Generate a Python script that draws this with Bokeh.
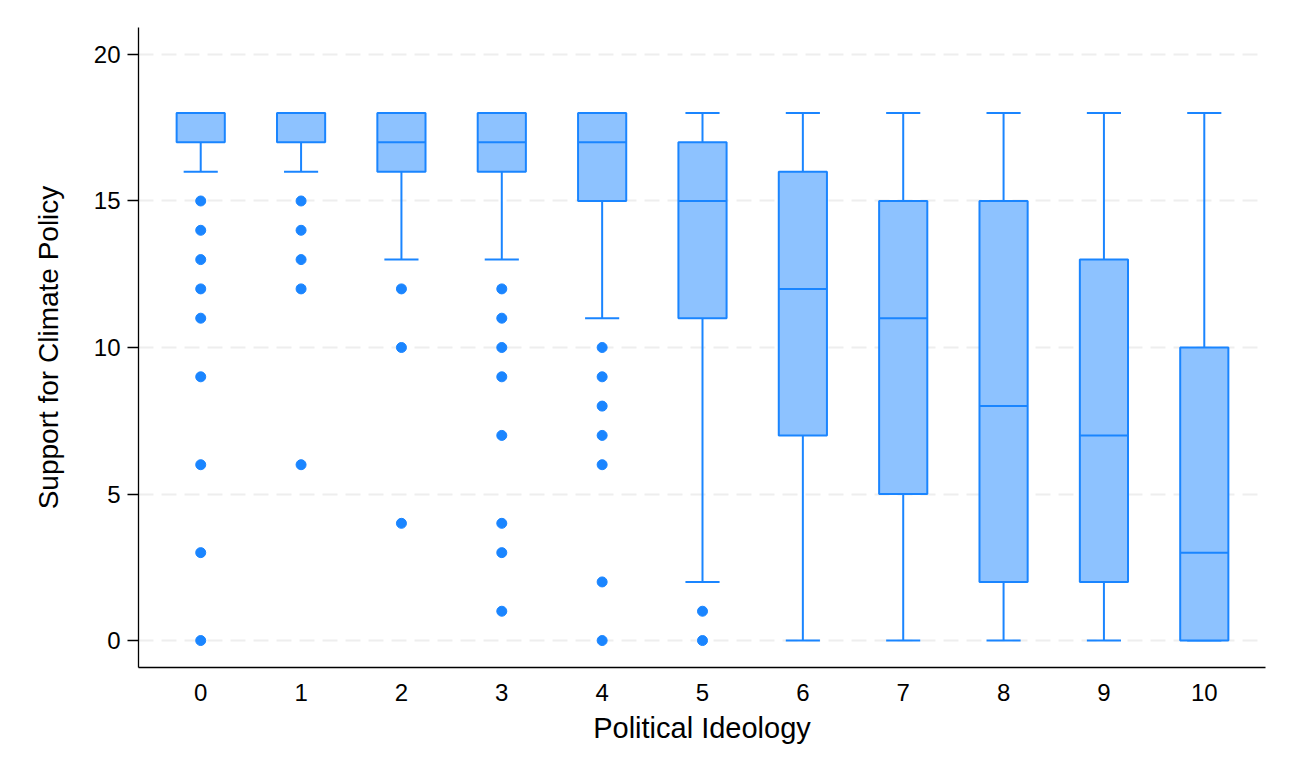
from bokeh.plotting import figure
from bokeh.models import FixedTicker, Range1d, ColumnDataSource
from bokeh.transform import dodge
from bokeh.embed import file_html
from bokeh.resources import INLINE

ideology = [0, 1, 2, 3, 4, 5, 6, 7, 8, 9, 10]
q1 = [17, 17, 16, 16, 15, 11, 7, 5, 2, 2, 0]
median = [18, 18, 17, 17, 17, 15, 12, 11, 8, 7, 3]
q3 = [18, 18, 18, 18, 18, 17, 16, 15, 15, 13, 10]
whisker_low = [16, 16, 13, 13, 11, 2, 0, 0, 0, 0, 0]
whisker_high = [18, 18, 18, 18, 18, 18, 18, 18, 18, 18, 18]
outliers = {
    0: [15, 14, 13, 12, 11, 9, 6, 3, 0],
    1: [15, 14, 13, 12, 6],
    2: [12, 10, 4],
    3: [12, 11, 10, 9, 7, 4, 3, 1],
    4: [10, 9, 8, 7, 6, 2, 0],
    5: [1, 0],
}
y_ticks = [0, 5, 10, 15, 20]

LINE = "#1A85FF"
FILL = "#8DC2FF"
FONT = "Liberation Sans"
BOX_W = 0.48
CAP_W = 0.34

p = figure(width=1274, height=759, output_backend="svg", toolbar_location=None,
           x_range=Range1d(-0.62, 10.61), y_range=Range1d(-0.92, 20.92),
           min_border_left=138, min_border_right=9, min_border_top=27, min_border_bottom=92)
p.outline_line_color = None
p.background_fill_color = "white"
p.border_fill_color = "white"

# Grid
p.xgrid.grid_line_color = None
p.ygrid.ticker = FixedTicker(ticks=y_ticks)
p.ygrid.grid_line_color = "#EEEEEE"
p.ygrid.grid_line_width = 2
p.ygrid.grid_line_dash = "15 8"

# Axes
p.xaxis.ticker = FixedTicker(ticks=ideology)
p.yaxis.ticker = FixedTicker(ticks=y_ticks)
p.xaxis.axis_label = "Political Ideology"
p.yaxis.axis_label = "Support for Climate Policy"
for ax in (p.xaxis, p.yaxis):
    ax.axis_line_color = "black"
    ax.axis_line_width = 1.3
    ax.major_label_text_font = FONT
    ax.major_label_text_font_size = "24px"
    ax.major_label_text_color = "black"
    ax.axis_label_text_font = FONT
    ax.axis_label_text_font_size = "28px"
    ax.axis_label_text_font_style = "normal"
    ax.axis_label_text_color = "black"
    ax.minor_tick_line_color = None
p.xaxis.axis_label_text_font_size = "29px"
p.xaxis.major_tick_line_color = None
p.xaxis.major_label_standoff = 10
p.xaxis.axis_label_standoff = 8
p.yaxis.major_tick_line_color = "black"
p.yaxis.major_tick_line_width = 1.3
p.yaxis.major_tick_out = 11
p.yaxis.major_tick_in = 0
p.yaxis.major_label_orientation = "horizontal"
p.yaxis.major_label_standoff = 7
p.yaxis.axis_label_standoff = 27

src = ColumnDataSource(dict(x=ideology, q1=q1, med=median, q3=q3,
                            lo=whisker_low, hi=whisker_high))

# Whiskers
p.segment(x0="x", x1="x", y0="lo", y1="q1", source=src, line_color=LINE, line_width=2)
p.segment(x0="x", x1="x", y0="q3", y1="hi", source=src, line_color=LINE, line_width=2)
p.segment(x0=dodge("x", -CAP_W / 2), x1=dodge("x", CAP_W / 2), y0="lo", y1="lo",
          source=src, line_color=LINE, line_width=2)
p.segment(x0=dodge("x", -CAP_W / 2), x1=dodge("x", CAP_W / 2), y0="hi", y1="hi",
          source=src, line_color=LINE, line_width=2)

# Boxes
p.vbar(x="x", width=BOX_W, bottom="q1", top="q3", source=src,
       fill_color=FILL, line_color=LINE, line_width=2)
# Medians
p.segment(x0=dodge("x", -BOX_W / 2), x1=dodge("x", BOX_W / 2), y0="med", y1="med",
          source=src, line_color=LINE, line_width=2)

# Outliers
ox, oy = [], []
for k, vals in outliers.items():
    for v in vals:
        ox.append(k)
        oy.append(v)
p.scatter(ox, oy, size=10, fill_color=LINE, line_color=LINE)

open("out.html", "w").write(file_html(p, INLINE))
